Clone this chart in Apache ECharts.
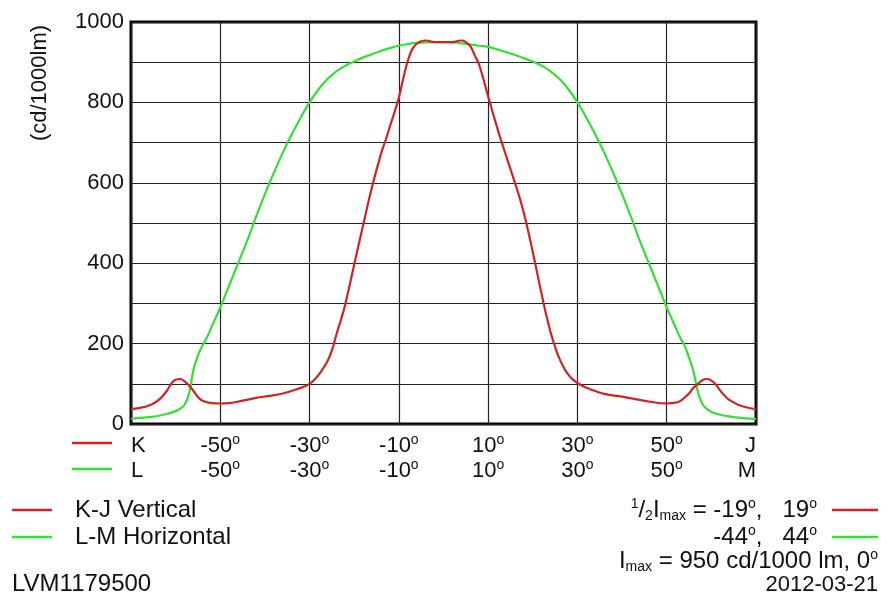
<!DOCTYPE html>
<html>
<head>
<meta charset="utf-8">
<script src="https://cdn.jsdelivr.net/npm/echarts@6/dist/echarts.min.js"></script>
<style>
html,body{margin:0;padding:0;background:#fff;}
#c{width:890px;height:604px;}
</style>
</head>
<body>
<div id="c"></div>
<script>
// K-J Vertical (red)
const kAngles = [-70,-68,-66,-64,-62,-61,-60,-59,-58,-57,-56,-55,-54,-52,-50,-48,-45,-42,-39,-36,-33,-30,-28,-27,-26,-25,-24,-23,-22,-20,-18,-16,-14,-13,-12,-11,-10,-9,-8,-7,-6,-5,-4,-2,0,2,4,5,6,7,8,10,12,14,16,17,18,19,20,21,22,23,24,25,26,28,30,33,36,40,43,46,50,52,53,54,55,56,57,58,59,60,61,62,63,64,66,68,70];
const kValues = [37,40,46,58,82,100,110,112,106,96,82,67,58,52,51,52,58,65,70,76,86,100,122,138,156,183,222,258,298,397,495,590,672,705,740,775,812,860,903,932,946,952,954,950,950,950,954,950,940,917,893,815,738,668,600,565,525,478,428,375,322,272,228,192,162,122,102,86,75,68,62,56,51,53,57,66,76,90,100,109,112,108,98,83,70,60,48,41,37];
// L-M Horizontal (green)
const lAngles = [-70,-68,-66,-64,-62,-60,-59,-58,-57,-56,-55,-54,-53,-52,-50,-48,-46,-44,-42,-40,-38,-36,-34,-32,-30,-28,-26,-24,-22,-20,-18,-16,-14,-12,-10,-8,-6,-4,-2,0,2,4,6,8,10,12,14,16,18,20,22,24,26,28,30,32,34,36,38,40,42,44,46,48,50,52,53,54,55,56,57,58,59,60,62,64,66,68,70];
const lValues = [13,15,17,20,25,32,38,48,75,135,170,195,215,240,290,345,400,455,515,572,625,675,720,762,800,832,858,877,891,902,912,920,928,935,941,945,948,949,950,950,949,947,944,941,938,932,925,918,910,902,891,877,858,832,800,762,720,675,625,572,515,455,400,345,290,240,215,195,165,130,80,50,38,30,23,19,16,14,12];

const kTickLabels = ['K','-50','-30','-10','10','30','50','J'];
const lTickLabels = ['L','-50','-30','-10','10','30','50','M'];
const yTickLabels = [0,200,400,600,800,1000];

const FONT = '"Liberation Sans", Arial, sans-serif';
const RED = '#d42222';
const GREEN = '#33e033';
const FS = 22;
const FT = 24;

function deg(t){
  return /^-?\d+$/.test(t) ? t + '{sup|o}' : t;
}

const chart = echarts.init(document.getElementById('c'), null, {renderer:'canvas'});
const richX = {
  sup:{fontSize:14, fontFamily:FONT, color:'#111', verticalAlign:'top', lineHeight:25, padding:[0,0,8,0]}
};
const richT = {
  n:{fontSize:FT, fontFamily:FONT, color:'#111', lineHeight:26},
  sup:{fontSize:14, fontFamily:FONT, color:'#111', verticalAlign:'top', lineHeight:26, padding:[0,0,8,0]},
  sub:{fontSize:14, fontFamily:FONT, color:'#111', verticalAlign:'bottom', lineHeight:26, padding:[6,0,0,0]}
};

const option = {
  animation:false,
  backgroundColor:'#fff',
  grid:{left:131, right:134, top:22, bottom:180, show:true, borderColor:'#000', borderWidth:3, backgroundColor:'transparent'},
  xAxis:{
    type:'value', min:-70, max:70, interval:20,
    axisLine:{show:false}, axisTick:{show:false},
    splitLine:{show:true, lineStyle:{color:'#222', width:1.2}},
    axisLabel:{
      margin:9, fontSize:FS, fontFamily:FONT, color:'#111', lineHeight:25,
      alignMinLabel:'left', alignMaxLabel:'right',
      formatter:function(v){
        const i = Math.round((v+70)/20);
        return deg(kTickLabels[i]) + '\n' + deg(lTickLabels[i]);
      },
      rich:richX
    }
  },
  yAxis:{
    type:'value', min:0, max:1000, interval:100,
    axisLine:{show:false}, axisTick:{show:false},
    splitLine:{show:true, lineStyle:{color:'#222', width:1.2}},
    axisLabel:{
      margin:7, fontSize:FS, fontFamily:FONT, color:'#111',
      formatter:function(v){ return yTickLabels.indexOf(v) >= 0 ? String(v) : ''; }
    }
  },
  series:[
    {type:'line', name:'K-J Vertical', data:kAngles.map((a,i)=>[a,kValues[i]]), showSymbol:false, smooth:0.5, lineStyle:{color:RED, width:2.2}, z:3},
    {type:'line', name:'L-M Horizontal', data:lAngles.map((a,i)=>[a,lValues[i]]), showSymbol:false, smooth:0.5, lineStyle:{color:GREEN, width:2.2}, z:2}
  ],
  graphic:[
    {type:'text', x:40, y:83, rotation:Math.PI/2, style:{text:'(cd/1000lm)', fontSize:FS, fontFamily:FONT, fill:'#111', align:'center', verticalAlign:'middle'}},
    {type:'line', shape:{x1:72,y1:443,x2:112,y2:443}, style:{stroke:RED, lineWidth:2.5}},
    {type:'line', shape:{x1:72,y1:469,x2:112,y2:469}, style:{stroke:GREEN, lineWidth:2.5}},
    {type:'line', shape:{x1:12,y1:510,x2:52,y2:510}, style:{stroke:RED, lineWidth:2.5}},
    {type:'line', shape:{x1:12,y1:537,x2:52,y2:537}, style:{stroke:GREEN, lineWidth:2.5}},
    {type:'text', x:75, y:510, style:{text:'K-J Vertical', fontSize:FT, fontFamily:FONT, fill:'#111', verticalAlign:'middle'}},
    {type:'text', x:75, y:537, style:{text:'L-M Horizontal', fontSize:FT, fontFamily:FONT, fill:'#111', verticalAlign:'middle'}},
    {type:'text', x:12, y:584, style:{text:'LVM1179500', fontSize:FT, fontFamily:FONT, fill:'#111', verticalAlign:'middle'}},
    {type:'line', shape:{x1:832,y1:510,x2:878,y2:510}, style:{stroke:RED, lineWidth:2.5}},
    {type:'line', shape:{x1:832,y1:537,x2:878,y2:537}, style:{stroke:GREEN, lineWidth:2.5}},
    {type:'text', x:817, y:510, style:{text:'{sup|1}/{sub|2}{n|I}{sub|max}{n| = -19}{sup|o}{n|,   19}{sup|o}', rich:richT, fontSize:FT, fontFamily:FONT, fill:'#111', align:'right', verticalAlign:'middle'}},
    {type:'text', x:817, y:537, style:{text:'{n|-44}{sup|o}{n|,   44}{sup|o}', rich:richT, fontSize:FT, fontFamily:FONT, fill:'#111', align:'right', verticalAlign:'middle'}},
    {type:'text', x:878, y:561, style:{text:'{n|I}{sub|max}{n| = 950 cd/1000 lm, 0}{sup|o}', rich:richT, fontSize:FT, fontFamily:FONT, fill:'#111', align:'right', verticalAlign:'middle'}},
    {type:'text', x:878, y:585, style:{text:'2012-03-21', fontSize:FS, fontFamily:FONT, fill:'#111', align:'right', verticalAlign:'middle'}}
  ]
};
chart.setOption(option);
</script>
</body>
</html>
